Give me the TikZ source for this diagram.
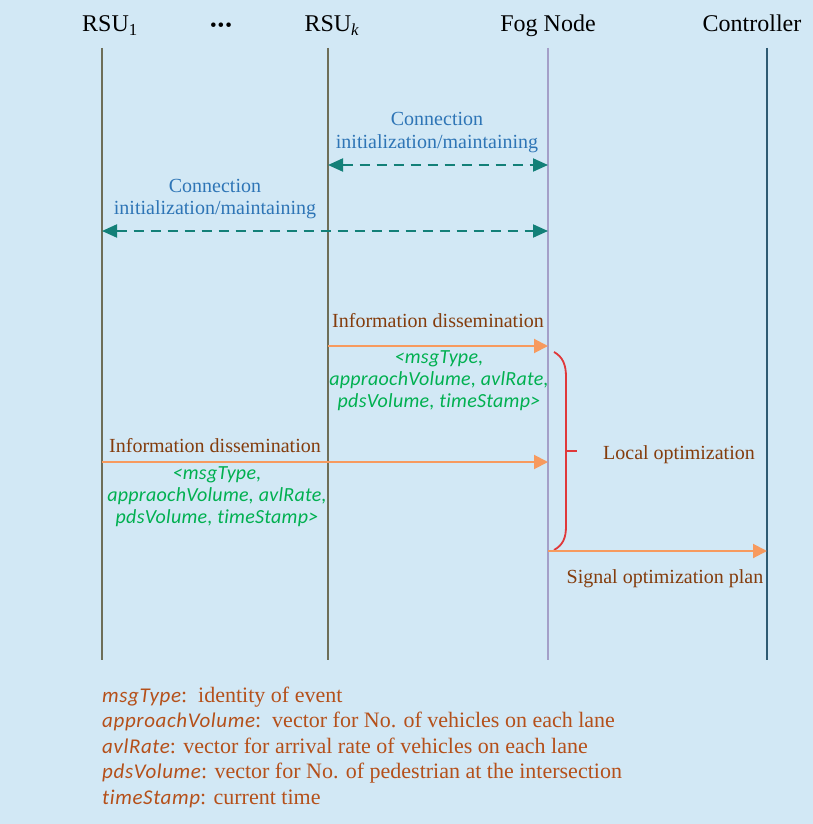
\documentclass[tikz,border=0pt]{standalone}
\usepackage{fontspec}
\setmainfont{Liberation Serif}
\newfontfamily\fieldfont[LetterSpace=1.4, Ligatures=NoCommon]{Carlito}
\newfontfamily\legendfont[LetterSpace=3, Ligatures=NoCommon]{Carlito}
\usetikzlibrary{arrows.meta}

\definecolor{bgblue}{HTML}{D2E8F5}
\definecolor{rsugray}{HTML}{6E6E58}
\definecolor{foglilac}{HTML}{A49FC8}
\definecolor{ctrlteal}{HTML}{2F5B73}
\definecolor{linkteal}{HTML}{138078}
\definecolor{linkblue}{HTML}{2E75B6}
\definecolor{msgorange}{HTML}{F79A5E}
\definecolor{notebrown}{HTML}{843C0C}
\definecolor{fieldgreen}{HTML}{00B050}
\definecolor{bracered}{HTML}{E0383A}
\definecolor{legendbrown}{HTML}{B5501A}

\newcommand{\fld}[1]{{\legendfont\itshape\fontsize{21}{25.5}\selectfont #1}}

\begin{document}
\begin{tikzpicture}[x=1pt, y=-1pt,
    every node/.style={inner sep=0pt},
    title/.style={anchor=base, font=\fontsize{24}{28}\selectfont},
    lifeline/.style={line width=2pt},
    link/.style={{Triangle[length=15pt,width=13pt]}-{Triangle[length=15pt,width=13pt]},
      dash pattern=on 10pt off 7pt, line width=2pt, color=linkteal},
    msg/.style={-{Triangle[length=14pt,width=14pt]}, line width=2pt, color=msgorange},
    linklabel/.style={anchor=base, align=center, text=linkblue, font=\fontsize{20}{22}\selectfont},
    note/.style={anchor=base, align=center, text=notebrown, font=\fontsize{20}{22}\selectfont},
    fields/.style={anchor=base, align=center, text=fieldgreen, font=\fieldfont\itshape\fontsize{20}{22}\selectfont}]

  \fill[bgblue] (0,0) rectangle (813,824);

  % entities (multi-line nodes sit on their last baseline)
  \node[title] (rsu1) at (110,32) {RSU\textsubscript{1}};
  \node[title] (dots) at (221,32) {\fontsize{19}{19}\selectfont\textbullet\kern1pt\textbullet\kern1pt\textbullet};
  \node[title] (rsuk) at (332,32) {RSU\textsubscript{\textit{k}}};
  \node[title] (fog) at (548,32) {Fog Node};
  \node[title] (ctrl) at (752,32) {Controller};

  % lifelines
  \coordinate (rsu1 top) at (102,48);  \coordinate (rsu1 end) at (102,660);
  \coordinate (rsuk top) at (328,48);  \coordinate (rsuk end) at (328,660);
  \coordinate (fog top) at (548,48);   \coordinate (fog end) at (548,660);
  \coordinate (ctrl top) at (767,48);  \coordinate (ctrl end) at (767,660);

  \draw[lifeline, color=rsugray] (rsu1 top) -- (rsu1 end);
  \draw[lifeline, color=rsugray] (rsuk top) -- (rsuk end);
  \draw[lifeline, color=foglilac] (fog top) -- (fog end);
  \draw[lifeline, color=ctrlteal] (ctrl top) -- (ctrl end);

  % connection set-up
  \coordinate (k1) at (328,165);  \coordinate (f1) at (548,165);
  \coordinate (r2) at (102,231);  \coordinate (f2) at (548,231);
  \draw[link] (k1) -- (f1);
  \draw[link] (r2) -- (f2);
  \node[linklabel] (conn k) at (437,148) {Connection\\initialization/maintaining};
  \node[linklabel] (conn 1) at (215,214) {Connection\\initialization/maintaining};

  % information dissemination
  \coordinate (k3) at (328,346);  \coordinate (f3) at (548,346);
  \coordinate (r4) at (102,462);  \coordinate (f4) at (548,462);
  \draw[msg] (k3) -- (f3);
  \draw[msg] (r4) -- (f4);
  \node[note] (info k) at (438,327) {Information dissemination};
  \node[note] (info 1) at (215,452) {Information dissemination};
  \node[fields] (data k) at (439,407) {<msgType,\\appraochVolume, avlRate,\\pdsVolume, timeStamp>};
  \node[fields] (data 1) at (217,523) {<msgType,\\appraochVolume, avlRate,\\pdsVolume, timeStamp>};

  % local optimization
  \draw[line width=1.8pt, color=bracered] (554,352) .. controls (563,357) and (566,365) .. (566,377)
    -- (566,526) .. controls (566,538) and (563,545) .. (554,550);
  \draw[line width=1.8pt, color=bracered] (566,451) -- (577,451);
  \node[note] (local) at (679,459) {Local optimization};

  % plan to controller
  \coordinate (f5) at (548,551);  \coordinate (c5) at (767,551);
  \draw[msg] (f5) -- (c5);
  \node[note] (plan) at (665,583) {Signal optimization plan};

  % field legend
  \node[anchor=base west, align=left, text=legendbrown, font=\fontsize{22}{25.5}\selectfont] (legend) at (102,804)
    {\fld{msgType}:\ \ identity of event\\
     \fld{approachVolume}:\ \ vector for No. of vehicles on each lane\\
     \fld{avlRate}: vector for arrival rate of vehicles on each lane\\
     \fld{pdsVolume}: vector for No. of pedestrian at the intersection\\
     \fld{timeStamp}: current time};
\end{tikzpicture}
\end{document}
